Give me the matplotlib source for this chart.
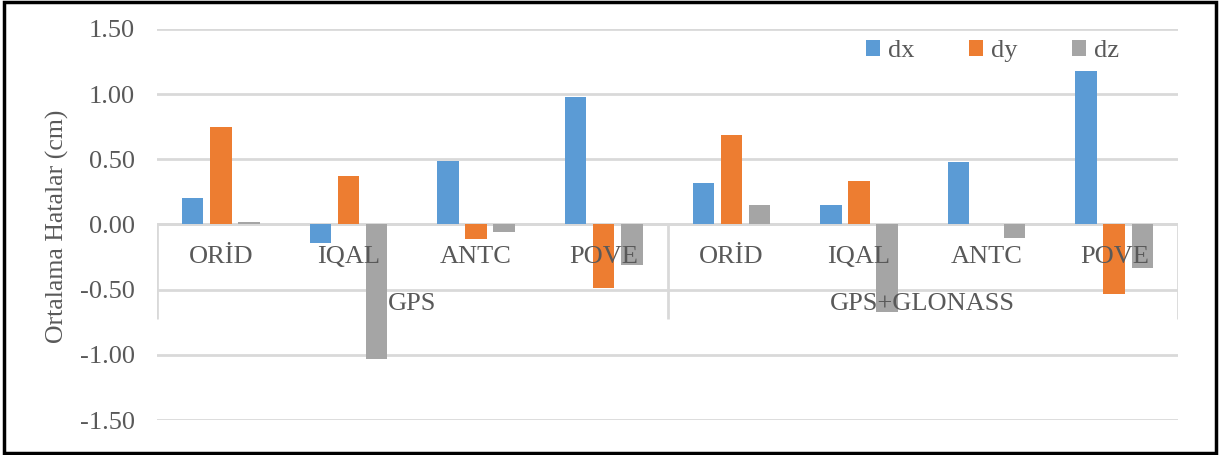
import numpy as np
import matplotlib.pyplot as plt
from matplotlib.patches import Rectangle

# istasyonlar ve çözüm türleri
istasyonlar = ['ORİD', 'IQAL', 'ANTC', 'POVE']
cozumler = ['GPS', 'GPS+GLONASS']

# ortalama hatalar (cm): önce GPS, sonra GPS+GLONASS
dx = [0.20, -0.14, 0.49, 0.98, 0.32, 0.15, 0.48, 1.18]
dy = [0.75, 0.37, -0.11, -0.49, 0.69, 0.33, 0.00, -0.53]
dz = [0.02, -1.03, -0.06, -0.31, 0.15, -0.67, -0.10, -0.33]

renkler = ['#5B9BD5', '#ED7D31', '#A5A5A5']
yazi_rengi = '#595959'
izgara = '#D9D9D9'
fs = 19

plt.rcParams['font.family'] = ['Liberation Serif', 'DejaVu Serif']

fig = plt.figure(figsize=(12.2, 4.55), dpi=100)
ax = fig.add_axes([0.1287, 0.0769, 0.8369, 0.8594])

n = len(dx)
x = np.arange(n)
w = 0.168
adim = 0.22
for i, (seri, ad) in enumerate(zip([dx, dy, dz], ['dx', 'dy', 'dz'])):
    ax.bar(x + (i - 1) * adim, seri, width=w, color=renkler[i], label=ad, zorder=2)

ax.set_xlim(-0.5, n - 0.5)
ax.set_ylim(-1.5, 1.5)
ax.set_yticks(np.arange(-1.5, 1.51, 0.5))
ax.set_yticklabels(['%.2f' % v for v in np.arange(-1.5, 1.51, 0.5)])
ax.tick_params(axis='y', length=0, pad=16, labelsize=fs, labelcolor=yazi_rengi)
ax.set_xticks([])
for s in ax.spines.values():
    s.set_visible(False)
ax.yaxis.grid(True, color=izgara, linewidth=2, zorder=0)
ax.set_axisbelow(True)
ax.axhline(0, color=izgara, linewidth=2, zorder=1)

# iki seviyeli kategori ekseni
for k, ist in enumerate(istasyonlar * len(cozumler)):
    ax.text(k, -0.25, ist, ha='center', va='center', fontsize=fs, color=yazi_rengi, zorder=4)
for g, c in enumerate(cozumler):
    ax.text(g * 4 + 1.5, -0.61, c, ha='center', va='center', fontsize=fs, color=yazi_rengi, zorder=4)
ax.vlines([-0.5, 3.5, 7.5], -0.725, 0, color=izgara, linewidth=2, zorder=1)

fig.text(0.047, 0.503, 'Ortalama Hatalar (cm)', rotation=90, ha='center', va='center',
         fontsize=18.5, color=yazi_rengi)

leg = ax.legend(loc='center', bbox_to_anchor=(0.8135, 1 - 51 / 455), bbox_transform=fig.transFigure,
                ncol=3, frameon=False, fontsize=fs, handlelength=0.55, handleheight=0.55,
                handletextpad=0.3, columnspacing=2.05)
for t in leg.get_texts():
    t.set_color(yazi_rengi)

# çerçeve
fig.patches.append(Rectangle((0.003, 0.004), 0.994, 0.992, transform=fig.transFigure,
                             fill=False, edgecolor='black', linewidth=2.5))

fig.savefig('out.png', dpi=100)
